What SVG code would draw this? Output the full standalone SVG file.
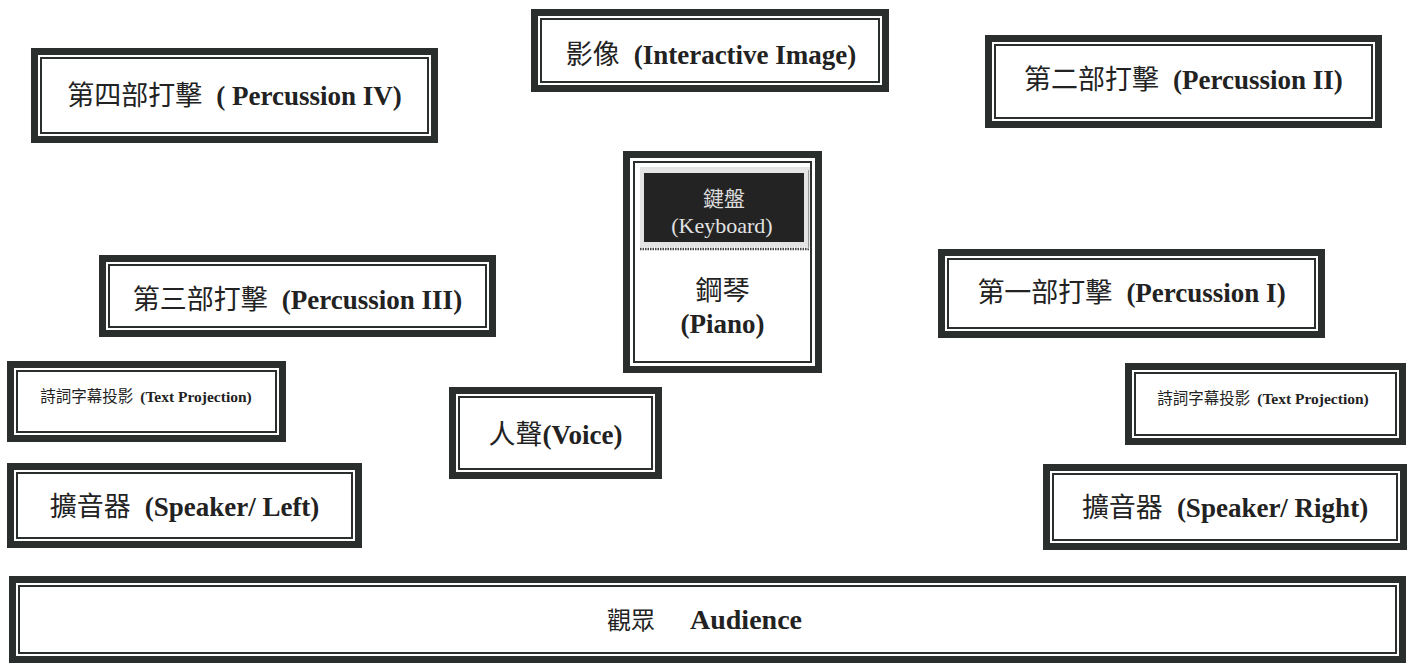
<svg xmlns="http://www.w3.org/2000/svg" width="1411" height="666" viewBox="0 0 1411 666">
<style>
.frame{fill:#fff;stroke:#2a2e2d;stroke-width:7}
.inner{fill:none;stroke:#2a2e2d;stroke-width:2}
.lbl{font-family:"Liberation Serif","Noto Sans CJK TC",serif;font-weight:bold;fill:#222;text-anchor:middle;font-size:27px}
.cjk{font-family:"Noto Sans CJK TC","Liberation Sans",sans-serif;font-weight:normal}
.small{font-size:15.5px}
</style>
<rect x="0" y="0" width="1411" height="666" fill="#fff"/>
<g id="connectors"></g>

<g id="percussion4">
<rect class="frame" x="34.5" y="51.5" width="400" height="88"/>
<rect class="inner" x="41" y="58" width="387" height="75"/>
<text class="lbl" x="234.5" y="105"><tspan class="cjk">第四部打擊</tspan><tspan dx="14">( Percussion IV)</tspan></text>
</g>

<g id="image">
<rect class="frame" x="534.5" y="12.5" width="351" height="76"/>
<rect class="inner" x="541" y="19" width="338" height="63"/>
<text class="lbl" x="711" y="64"><tspan class="cjk">影像</tspan><tspan dx="14">(Interactive Image)</tspan></text>
</g>

<g id="percussion2">
<rect class="frame" x="988.5" y="38.5" width="390" height="86"/>
<rect class="inner" x="995" y="45" width="377" height="73"/>
<text class="lbl" x="1183.5" y="89"><tspan class="cjk">第二部打擊</tspan><tspan dx="14">(Percussion II)</tspan></text>
</g>

<g id="piano">
<rect class="frame" x="626.5" y="154.5" width="192" height="215"/>
<rect class="inner" x="634" y="162" width="177" height="200"/>
<rect x="640" y="167" width="170" height="80" fill="#e4e4e4"/>
<rect x="644" y="173" width="160" height="69" fill="#232323"/>
<line x1="640" y1="249" x2="810" y2="249" stroke="#444" stroke-width="2.5" stroke-dasharray="1.5 1"/>
<line x1="808.5" y1="170" x2="808.5" y2="249" stroke="#999" stroke-width="1"/>
<text x="724" y="206" text-anchor="middle" font-family="Noto Sans CJK TC, sans-serif" font-size="21" fill="#dcdcdc">鍵盤</text>
<text x="722" y="233" text-anchor="middle" font-family="Liberation Serif, serif" font-size="22" fill="#e2e2e2">(Keyboard)</text>
<text class="lbl" x="722.5" y="300"><tspan class="cjk" font-weight="bold">鋼琴</tspan></text>
<text class="lbl" x="722.5" y="333">(Piano)</text>
</g>

<g id="percussion3">
<rect class="frame" x="102.5" y="258.5" width="390" height="75"/>
<rect class="inner" x="109" y="265" width="377" height="62"/>
<text class="lbl" x="297.5" y="309"><tspan class="cjk">第三部打擊</tspan><tspan dx="14">(Percussion III)</tspan></text>
</g>

<g id="percussion1">
<rect class="frame" x="941.5" y="252.5" width="380" height="82"/>
<rect class="inner" x="948" y="259" width="367" height="69"/>
<text class="lbl" x="1131.5" y="302"><tspan class="cjk">第一部打擊</tspan><tspan dx="14">(Percussion I)</tspan></text>
</g>

<g id="textprojection-left">
<rect class="frame" x="10.5" y="364.5" width="272" height="74"/>
<rect class="inner" x="17" y="371" width="259" height="61"/>
<text class="lbl small" x="146" y="402"><tspan class="cjk">詩詞字幕投影</tspan><tspan dx="7">(Text Projection)</tspan></text>
</g>

<g id="voice">
<rect class="frame" x="452.5" y="390.5" width="206" height="85"/>
<rect class="inner" x="459" y="397" width="193" height="72"/>
<text class="lbl" x="555.5" y="444"><tspan class="cjk">人聲</tspan><tspan>(Voice)</tspan></text>
</g>

<g id="textprojection-right">
<rect class="frame" x="1128.5" y="366.5" width="274" height="75"/>
<rect class="inner" x="1135" y="373" width="261" height="62"/>
<text class="lbl small" x="1263" y="404"><tspan class="cjk">詩詞字幕投影</tspan><tspan dx="7">(Text Projection)</tspan></text>
</g>

<g id="speaker-left">
<rect class="frame" x="10.5" y="466.5" width="348" height="78"/>
<rect class="inner" x="17" y="473" width="335" height="65"/>
<text class="lbl" x="184.5" y="516"><tspan class="cjk">擴音器</tspan><tspan dx="14">(Speaker/ Left)</tspan></text>
</g>

<g id="speaker-right">
<rect class="frame" x="1046.5" y="467.5" width="357" height="79"/>
<rect class="inner" x="1053" y="474" width="344" height="66"/>
<text class="lbl" x="1225" y="517"><tspan class="cjk">擴音器</tspan><tspan dx="14">(Speaker/ Right)</tspan></text>
</g>

<g id="audience">
<rect class="frame" x="12.5" y="579.5" width="1390" height="80"/>
<rect class="inner" x="19" y="586" width="1377" height="67"/>
<text x="607" y="629" font-family="Noto Sans CJK TC, sans-serif" font-size="24" fill="#222">觀眾</text>
<text x="690" y="629" font-family="Liberation Serif, serif" font-weight="bold" font-size="28" fill="#222">Audience</text>
</g>
</svg>
